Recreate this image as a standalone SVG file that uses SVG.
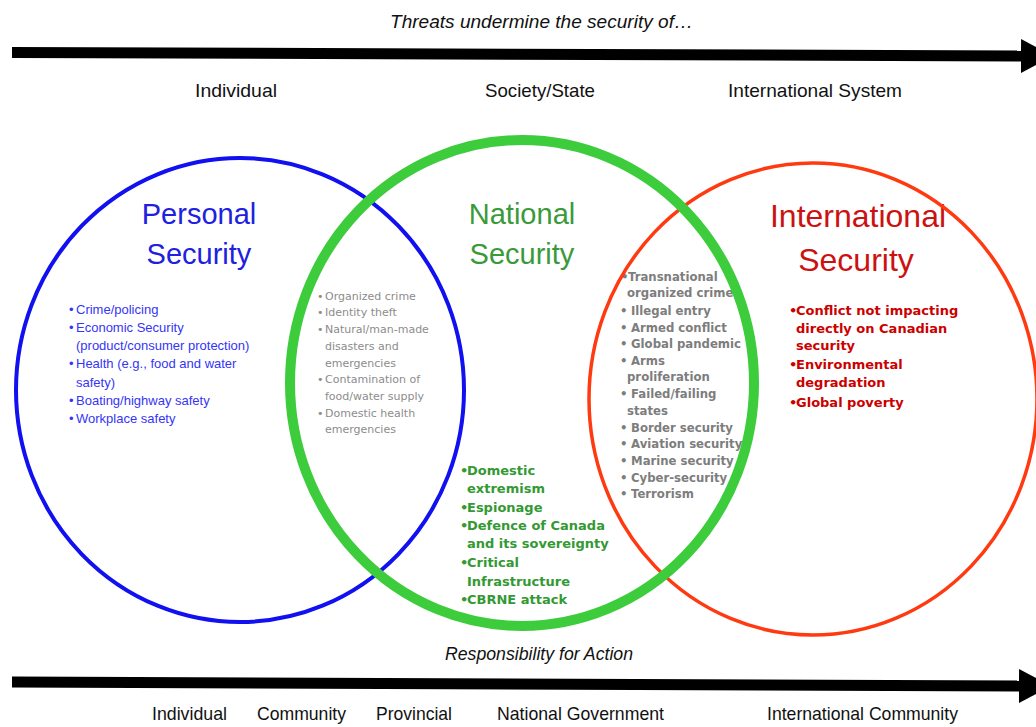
<svg xmlns="http://www.w3.org/2000/svg" width="1036" height="727" viewBox="0 0 1036 727">
<defs>
<marker id="head" markerUnits="userSpaceOnUse" markerWidth="32" markerHeight="34" refX="0" refY="17" orient="auto" viewBox="0 0 32 34">
<path d="M0,0 L32,17 L0,34 Z" fill="#000"/>
</marker>
<style>
.lbl{font-family:"Liberation Sans",Arial,sans-serif;font-size:19px;fill:#111}
.it{font-style:italic}
.title{font-family:"Liberation Sans",Arial,sans-serif;text-anchor:middle}
.blue{font-family:"Liberation Sans",Arial,sans-serif;font-size:13px;fill:#3535f5}
.gray{font-family:"DejaVu Sans",Verdana,sans-serif;font-size:11px;fill:#8c8c8c}
.green{font-family:"DejaVu Sans",Verdana,sans-serif;font-size:13px;font-weight:bold;fill:#339933}
.gbold{font-family:"DejaVu Sans",Verdana,sans-serif;font-size:11.7px;font-weight:bold;fill:#7d7d7d}
.red{font-family:"DejaVu Sans",Verdana,sans-serif;font-size:13px;font-weight:bold;fill:#cc0000}
.arrow{stroke:#000;stroke-width:11;fill:none;marker-end:url(#head)}
</style>
</defs>
<rect width="1036" height="727" fill="#fff"/>

<g id="connectors">
<line class="arrow" x1="12" y1="52.5" x2="1021" y2="56"/>
<line class="arrow" x1="12" y1="682" x2="1019" y2="686"/>
</g>

<g id="axis-labels">
<text class="lbl it" x="390" y="28" textLength="303" lengthAdjust="spacingAndGlyphs">Threats undermine the security of…</text>
<text class="lbl" x="195" y="97" textLength="82" lengthAdjust="spacingAndGlyphs">Individual</text>
<text class="lbl" x="485" y="97" textLength="110" lengthAdjust="spacingAndGlyphs">Society/State</text>
<text class="lbl" x="728" y="97" textLength="174" lengthAdjust="spacingAndGlyphs">International System</text>
<text class="lbl it" x="445" y="660" textLength="188" lengthAdjust="spacingAndGlyphs">Responsibility for Action</text>
<text class="lbl" x="152" y="720" textLength="75" lengthAdjust="spacingAndGlyphs">Individual</text>
<text class="lbl" x="257" y="720" textLength="89" lengthAdjust="spacingAndGlyphs">Community</text>
<text class="lbl" x="376" y="720" textLength="76" lengthAdjust="spacingAndGlyphs">Provincial</text>
<text class="lbl" x="497" y="720" textLength="167" lengthAdjust="spacingAndGlyphs">National Government</text>
<text class="lbl" x="767" y="720" textLength="191" lengthAdjust="spacingAndGlyphs">International Community</text>
</g>

<g id="node-personal">
<text class="title" x="199" y="224" font-size="29" fill="#2020e0">Personal</text>
<text class="title" x="199" y="264" font-size="29" fill="#2020e0">Security</text>
<g class="blue">
<text x="69" y="314">•<tspan x="76">Crime/policing</tspan></text>
<text x="69" y="332">•<tspan x="76">Economic Security</tspan></text>
<text x="76" y="350">(product/consumer protection)</text>
<text x="69" y="368">•<tspan x="76">Health (e.g., food and water</tspan></text>
<text x="76" y="387">safety)</text>
<text x="69" y="405">•<tspan x="76">Boating/highway safety</tspan></text>
<text x="69" y="423">•<tspan x="76">Workplace safety</tspan></text>
</g>
</g>

<g id="node-overlap-personal-national" class="gray">
<text x="317" y="300">•<tspan x="325">Organized crime</tspan></text>
<text x="317" y="316">•<tspan x="325">Identity theft</tspan></text>
<text x="317" y="333">•<tspan x="325">Natural/man-made</tspan></text>
<text x="325" y="350">disasters and</text>
<text x="325" y="367">emergencies</text>
<text x="317" y="383">•<tspan x="325">Contamination of</tspan></text>
<text x="325" y="400">food/water supply</text>
<text x="317" y="417">•<tspan x="325">Domestic health</tspan></text>
<text x="325" y="433">emergencies</text>
</g>

<g id="node-national">
<text class="title" x="522" y="224" font-size="29" fill="#3a9a3a">National</text>
<text class="title" x="522" y="264" font-size="29" fill="#3a9a3a">Security</text>
<g class="green">
<text x="460" y="475">•<tspan x="467">Domestic</tspan></text>
<text x="467" y="493">extremism</text>
<text x="460" y="512">•<tspan x="467">Espionage</tspan></text>
<text x="460" y="530">•<tspan x="467">Defence of Canada</tspan></text>
<text x="467" y="548">and its sovereignty</text>
<text x="460" y="567">•<tspan x="467">Critical</tspan></text>
<text x="467" y="586">Infrastructure</text>
<text x="460" y="604">•<tspan x="467">CBRNE attack</tspan></text>
</g>
</g>

<g id="node-overlap-national-international" class="gbold">
<text x="621" y="281">•<tspan x="628">Transnational</tspan></text>
<text x="627" y="297">organized crime</text>
<text x="620" y="315">•<tspan x="631">Illegal entry</tspan></text>
<text x="620" y="332">•<tspan x="631">Armed conflict</tspan></text>
<text x="620" y="348">•<tspan x="631">Global pandemic</tspan></text>
<text x="620" y="365">•<tspan x="631">Arms</tspan></text>
<text x="627" y="381">proliferation</text>
<text x="620" y="398">•<tspan x="631">Failed/failing</tspan></text>
<text x="627" y="415">states</text>
<text x="620" y="432">•<tspan x="631">Border security</tspan></text>
<text x="620" y="448">•<tspan x="631">Aviation security</tspan></text>
<text x="620" y="465">•<tspan x="631">Marine security</tspan></text>
<text x="620" y="482">•<tspan x="631">Cyber-security</tspan></text>
<text x="620" y="498">•<tspan x="631">Terrorism</tspan></text>
</g>

<g id="node-international">
<text class="title" x="858" y="227" font-size="32" fill="#cc1111">International</text>
<text class="title" x="856" y="271" font-size="32" fill="#cc1111">Security</text>
<g class="red">
<text x="789" y="315">•<tspan x="796">Conflict not impacting</tspan></text>
<text x="796" y="333">directly on Canadian</text>
<text x="796" y="350">security</text>
<text x="789" y="369">•<tspan x="796">Environmental</tspan></text>
<text x="796" y="387">degradation</text>
<text x="789" y="407">•<tspan x="796">Global poverty</tspan></text>
</g>
</g>

<g id="circles" fill="none">
<ellipse id="circle-personal" cx="240" cy="390" rx="224" ry="232" stroke="#1010f0" stroke-width="4"/>
<ellipse id="circle-international" cx="813" cy="399" rx="224" ry="236" stroke="#ff3a10" stroke-width="3.5"/>
<ellipse id="circle-national" cx="522" cy="383" rx="232" ry="243" stroke="#3ccc3c" stroke-width="10"/>
</g>
</svg>
